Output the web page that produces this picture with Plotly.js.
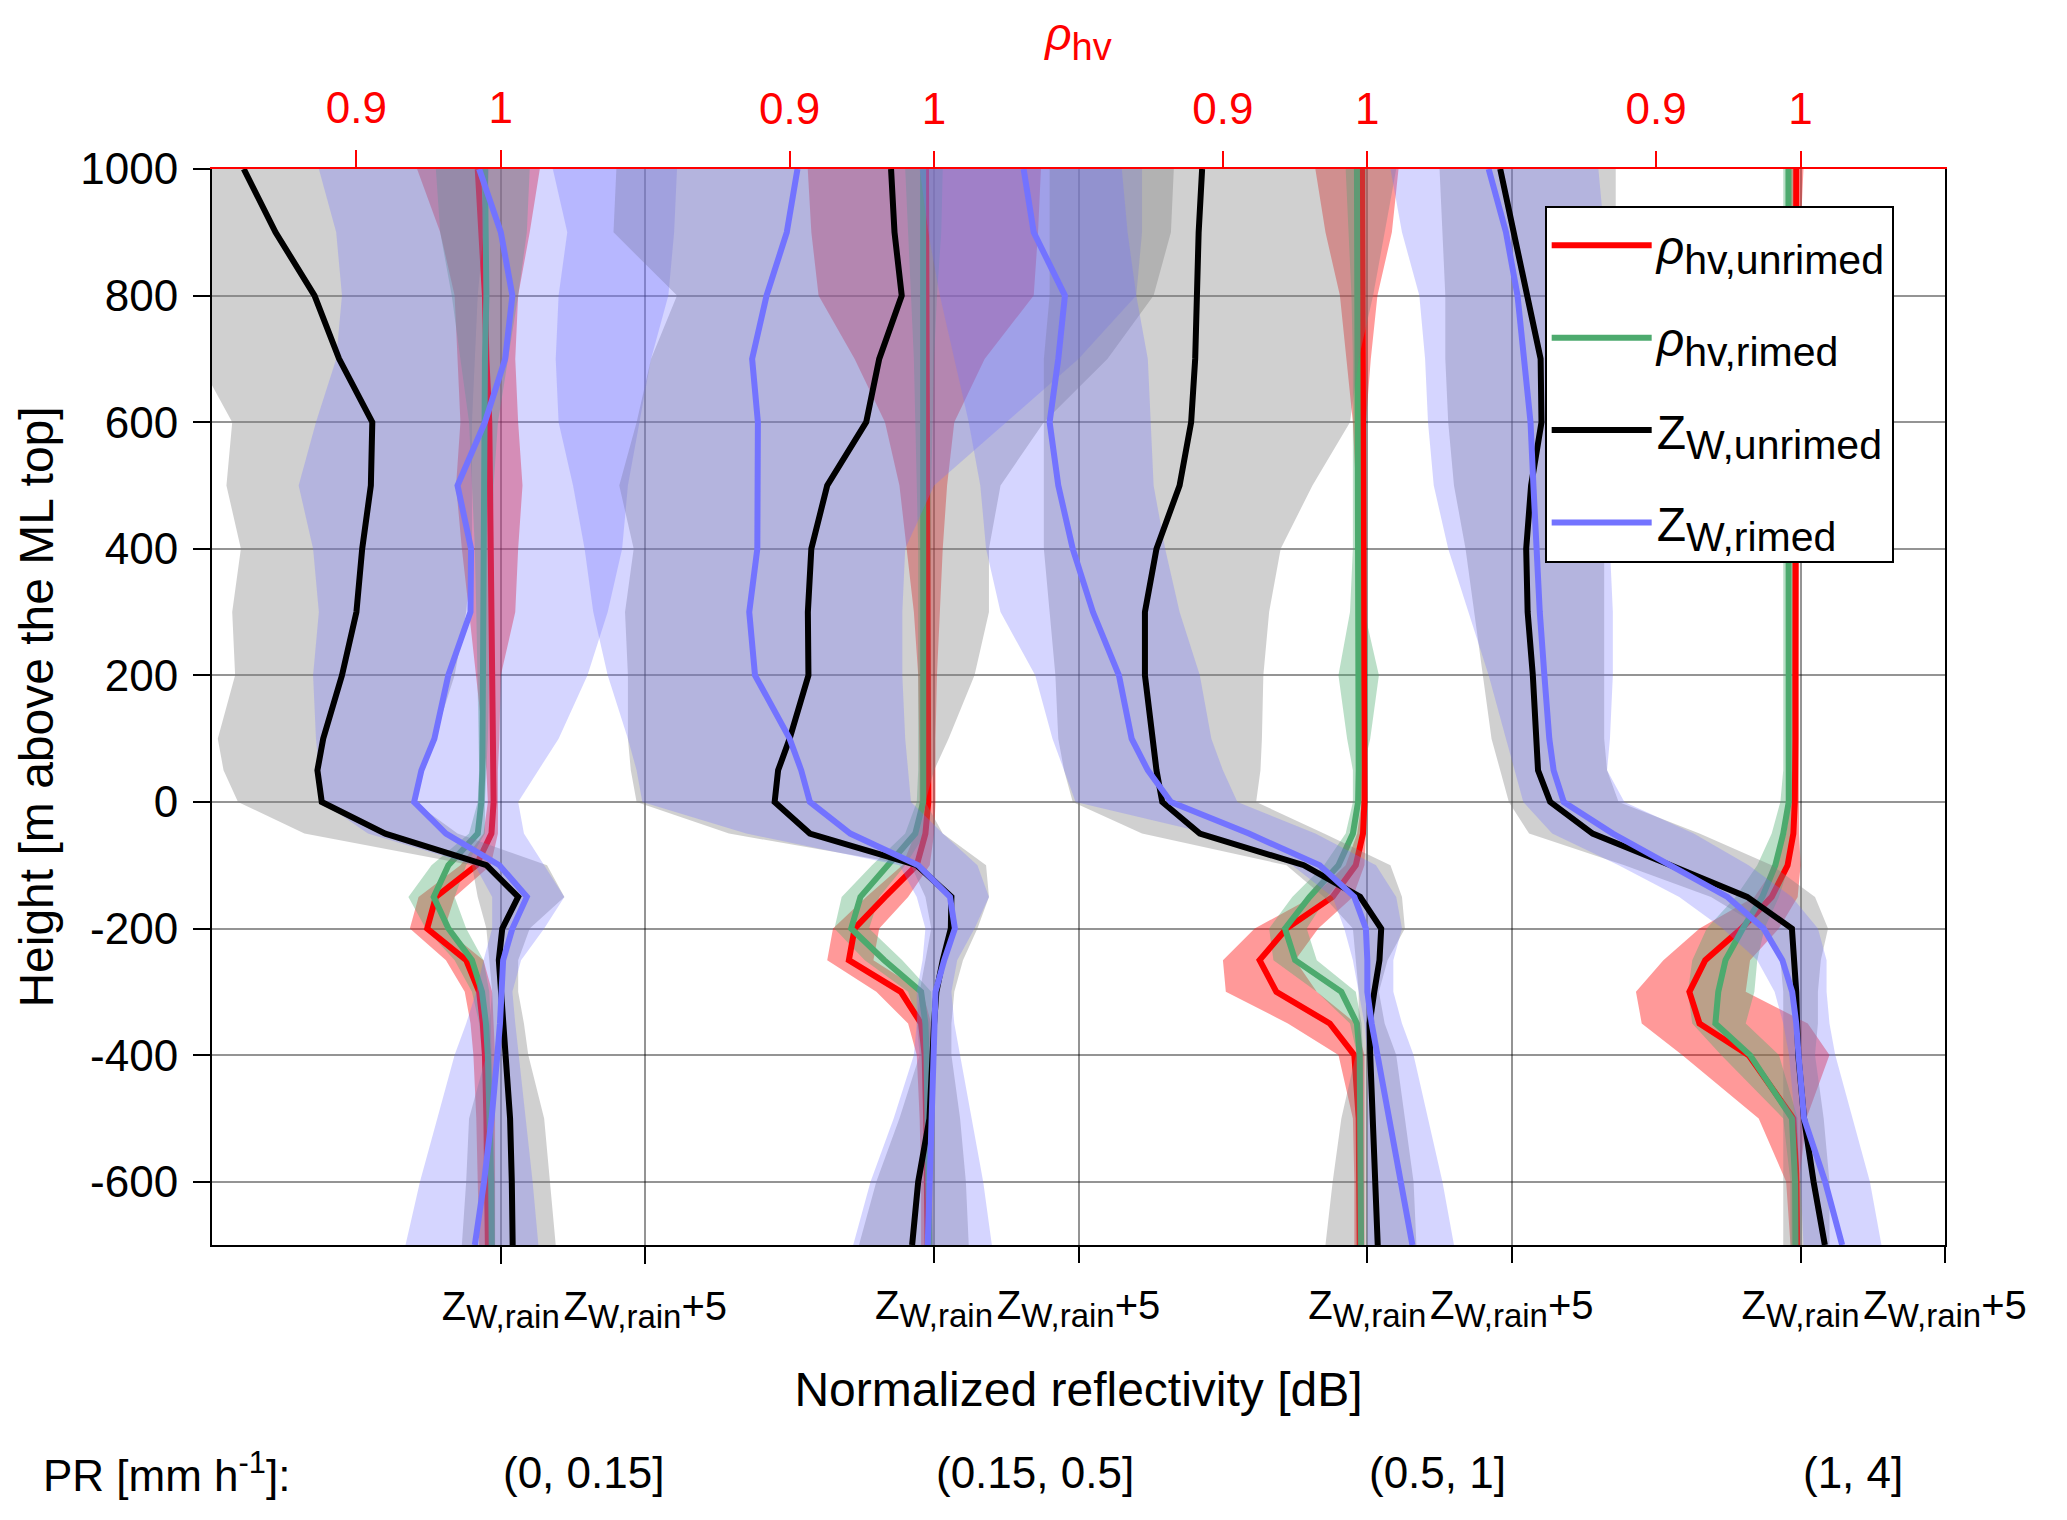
<!DOCTYPE html>
<html>
<head>
<meta charset="utf-8">
<script src="https://cdn.plot.ly/plotly-3.0.1.min.js"></script>
<style>body{margin:0;background:#fff}</style>
</head>
<body>
<div id="chart" style="width:2067px;height:1520px"></div>
<script>
// heights above the melting layer top [m]
var heights = [1000, 900, 800, 700, 600, 500, 400, 300, 200, 100, 50, 0, -50, -100, -150, -200, -250, -300, -350, -400, -500, -600, -700];

// PR (0, 0.15]  -- Z in dB relative to Z_W,rain
var zUnrimed1   = [-8.9, -7.8, -6.45, -5.6, -4.45, -4.5, -4.8, -5.0, -5.5, -6.15, -6.35, -6.2, -4.0, -0.5, 0.6, 0.05, -0.07, 0.0, 0.1, 0.18, 0.32, 0.38, 0.41];
var zUnrimedLo1 = [-12, -12, -12, -10.5, -9.3, -9.5, -9.0, -9.3, -9.2, -9.8, -9.6, -9.1, -6.8, -1.0, -0.8, -0.5, -0.4, -0.3, -0.4, -0.5, -1.1, -1.2, -1.35];
var zUnrimedHi1 = [-0.4, -0.6, -0.8, -0.9, -1.0, -1.0, -1.0, -1.2, -1.6, -2.3, -2.7, -3.0, -1.5, 1.6, 2.2, 1.0, 0.6, 0.6, 0.8, 0.95, 1.5, 1.7, 1.9];
var zRimed1     = [-0.75, 0.0, 0.4, 0.15, -0.55, -1.5, -1.03, -1.05, -1.82, -2.3, -2.75, -3.0, -1.9, -0.05, 0.9, 0.4, 0.08, 0.05, -0.03, -0.12, -0.32, -0.58, -0.9];
var zRimedLo1   = [-6.3, -5.7, -5.5, -5.7, -6.4, -7.0, -6.5, -6.3, -6.5, -6.4, -6.3, -6.2, -4.6, -0.9, -0.3, -0.3, -0.6, -0.85, -1.2, -1.6, -2.2, -2.8, -3.3];
var zRimedHi1   = [6.1, 6.0, 5.8, 5.2, 4.8, 4.4, 4.2, 3.7, 3.0, 2.0, 1.3, 0.6, 0.8, 1.5, 2.2, 1.5, 0.7, 0.4, 0.5, 0.6, 0.85, 1.1, 1.3];
var rhoUnrimed1   = [0.984, 0.9865, 0.989, 0.990, 0.992, 0.9925, 0.993, 0.9935, 0.994, 0.9945, 0.995, 0.995, 0.9935, 0.983, 0.955, 0.949, 0.976, 0.985, 0.9875, 0.989, 0.990, 0.9905, 0.991];
var rhoUnrimedLo1 = [0.942, 0.958, 0.968, 0.970, 0.972, 0.969, 0.973, 0.978, 0.983, 0.988, 0.990, 0.991, 0.988, 0.972, 0.943, 0.937, 0.962, 0.975, 0.979, 0.981, 0.983, 0.984, 0.985];
var rhoUnrimedHi1 = [1.027, 1.020, 1.012, 1.010, 1.012, 1.015, 1.012, 1.010, 1.000, 0.999, 0.998, 0.998, 0.998, 0.993, 0.968, 0.961, 0.988, 0.994, 0.995, 0.996, 0.996, 0.996, 0.996];
var rhoRimed1     = [0.989, 0.990, 0.990, 0.989, 0.9888, 0.9885, 0.988, 0.9885, 0.9877, 0.9875, 0.9872, 0.9865, 0.984, 0.9637, 0.9535, 0.9637, 0.980, 0.987, 0.9897, 0.991, 0.9925, 0.9933, 0.9937];
var rhoRimedLo1   = [0.955, 0.958, 0.966, 0.972, 0.978, 0.980, 0.982, 0.983, 0.984, 0.985, 0.985, 0.984, 0.978, 0.952, 0.936, 0.948, 0.968, 0.980, 0.985, 0.987, 0.989, 0.990, 0.990];
var rhoRimedHi1   = [1.020, 1.018, 1.012, 1.005, 0.998, 0.995, 0.994, 0.993, 0.992, 0.991, 0.990, 0.989, 0.989, 0.976, 0.968, 0.976, 0.988, 0.992, 0.993, 0.994, 0.995, 0.996, 0.996];

// PR (0.15, 0.5]
var zUnrimed2   = [-1.49, -1.37, -1.12, -1.9, -2.35, -3.7, -4.25, -4.37, -4.35, -5.0, -5.4, -5.52, -4.3, -0.6, 0.6, 0.58, 0.3, 0.08, 0.0, -0.04, -0.16, -0.55, -0.76];
var zUnrimedLo2 = [-11.0, -11.1, -8.9, -9.8, -10.3, -10.9, -10.4, -10.7, -10.6, -10.6, -10.5, -10.3, -7.1, -0.8, -0.3, -0.1, -0.3, -0.5, -0.6, -0.5, -1.2, -2.0, -2.6];
var zUnrimedHi2 = [8.3, 8.2, 7.6, 6.0, 3.8, 2.3, 1.9, 1.9, 1.4, 0.5, 0.0, -0.3, 0.3, 1.8, 1.9, 1.5, 1.0, 0.7, 0.6, 0.6, 0.9, 1.1, 1.2];
var zRimed2     = [-4.73, -5.1, -5.8, -6.3, -6.1, -6.1, -6.12, -6.4, -6.2, -5.0, -4.6, -4.3, -2.9, -0.55, 0.55, 0.72, 0.35, 0.05, 0.02, 0.0, -0.08, -0.15, -0.22];
var zRimedLo2   = [-13.2, -12.7, -13.0, -13.1, -13.0, -12.5, -12.1, -11.8, -11.3, -10.6, -10.3, -10.1, -6.5, -1.2, -0.6, -0.3, -0.4, -0.6, -0.6, -0.7, -1.4, -2.2, -2.8];
var zRimedHi2   = [7.2, 7.2, 7.0, 5.0, 2.5, 0.0, -1.0, -1.1, -1.1, -1.0, -0.9, -0.8, 0.3, 1.5, 1.9, 1.4, 0.8, 0.6, 0.7, 0.9, 1.3, 1.7, 2.0];
var rhoUnrimed2   = [0.9944, 0.9945, 0.9947, 0.9948, 0.995, 0.9955, 0.9955, 0.9958, 0.996, 0.9962, 0.9963, 0.996, 0.994, 0.988, 0.966, 0.945, 0.941, 0.977, 0.991, 0.9935, 0.9945, 0.995, 0.9955];
var rhoUnrimedLo2 = [0.9125, 0.915, 0.920, 0.945, 0.966, 0.976, 0.981, 0.986, 0.989, 0.990, 0.990, 0.990, 0.987, 0.978, 0.953, 0.930, 0.926, 0.960, 0.982, 0.988, 0.990, 0.991, 0.991];
var rhoUnrimedHi2 = [1.074, 1.072, 1.069, 1.035, 1.014, 1.009, 1.006, 1.004, 1.002, 1.001, 1.001, 1.001, 1.000, 0.997, 0.982, 0.962, 0.958, 0.992, 0.998, 0.999, 0.999, 0.999, 0.999];
var rhoRimed2     = [0.9924, 0.9924, 0.9925, 0.9925, 0.9926, 0.9926, 0.9927, 0.9928, 0.9929, 0.993, 0.993, 0.9925, 0.987, 0.968, 0.949, 0.9426, 0.9655, 0.991, 0.994, 0.9948, 0.9958, 0.9963, 0.9968];
var rhoRimedLo2   = [0.980, 0.982, 0.984, 0.986, 0.987, 0.988, 0.989, 0.989, 0.989, 0.989, 0.989, 0.988, 0.980, 0.957, 0.936, 0.931, 0.952, 0.982, 0.989, 0.991, 0.993, 0.994, 0.994];
var rhoRimedHi2   = [1.006, 1.005, 1.002, 1.000, 0.999, 0.998, 0.998, 0.997, 0.997, 0.997, 0.997, 0.997, 0.994, 0.980, 0.962, 0.955, 0.978, 0.998, 0.999, 0.999, 0.999, 0.999, 0.999];

// PR (0.5, 1]
var zUnrimed3   = [-5.72, -5.84, -5.9, -5.96, -6.1, -6.5, -7.3, -7.7, -7.7, -7.45, -7.3, -7.1, -5.8, -2.2, -0.25, 0.48, 0.42, 0.24, 0.08, 0.1, 0.18, 0.28, 0.36];
var zUnrimedLo3 = [-11.0, -11.0, -11.0, -11.2, -11.2, -11.2, -11.2, -11.0, -10.8, -10.7, -10.5, -10.2, -7.8, -2.8, -1.5, -0.5, -0.4, -0.3, -0.3, -0.4, -0.9, -1.2, -1.45];
var zUnrimedHi3 = [1.0, 0.6, 0.2, -0.3, -0.6, -1.9, -3.0, -3.4, -3.6, -3.65, -3.7, -3.85, -1.5, 0.8, 1.2, 1.3, 0.7, 0.4, 0.6, 1.0, 1.3, 1.6, 1.7];
var zRimed3     = [-11.9, -11.55, -10.47, -10.7, -11.0, -10.7, -10.2, -9.5, -8.6, -8.16, -7.6, -6.8, -4.1, -1.65, -0.45, -0.05, 0.0, 0.0, 0.15, 0.35, 0.75, 1.2, 1.56];
var zRimedLo3   = [-15.5, -15.2, -14.8, -14.3, -13.8, -13.4, -13.2, -12.7, -11.5, -10.9, -10.5, -10.1, -5.5, -2.6, -1.2, -0.8, -0.5, -0.3, -0.1, 0.0, 0.0, 0.0, 0.0];
var zRimedHi3   = [-8.5, -8.3, -8.0, -7.6, -7.5, -7.4, -7.0, -6.5, -5.8, -5.4, -5.0, -4.5, -1.8, 0.3, 1.0, 1.2, 0.9, 0.9, 1.2, 1.6, 2.1, 2.6, 3.0];
var rhoUnrimed3   = [0.9964, 0.9966, 0.9968, 0.9971, 0.9972, 0.9974, 0.9976, 0.9977, 0.9978, 0.998, 0.998, 0.998, 0.997, 0.992, 0.976, 0.944, 0.9254, 0.937, 0.974, 0.991, 0.994, 0.9945, 0.9947];
var rhoUnrimedLo3 = [0.964, 0.971, 0.981, 0.9855, 0.990, 0.992, 0.994, 0.995, 0.996, 0.996, 0.996, 0.996, 0.993, 0.985, 0.962, 0.922, 0.900, 0.902, 0.945, 0.980, 0.990, 0.991, 0.991];
var rhoUnrimedHi3 = [1.0216, 1.017, 1.007, 1.0024, 0.999, 0.999, 0.999, 0.999, 0.999, 0.999, 0.999, 0.999, 0.999, 0.998, 0.990, 0.966, 0.950, 0.965, 0.992, 0.998, 0.998, 0.998, 0.998];
var rhoRimed3     = [0.9928, 0.993, 0.993, 0.9932, 0.9932, 0.9932, 0.9932, 0.9932, 0.9935, 0.9938, 0.994, 0.9936, 0.990, 0.980, 0.960, 0.943, 0.950, 0.982, 0.9928, 0.9947, 0.995, 0.9955, 0.9957];
var rhoRimedLo3   = [0.985, 0.987, 0.989, 0.990, 0.990, 0.990, 0.990, 0.988, 0.980, 0.986, 0.990, 0.990, 0.985, 0.970, 0.948, 0.932, 0.935, 0.965, 0.988, 0.993, 0.994, 0.994, 0.994];
var rhoRimedHi3   = [0.999, 0.998, 0.997, 0.996, 0.996, 0.996, 0.996, 0.998, 1.008, 1.002, 0.997, 0.997, 0.996, 0.990, 0.972, 0.958, 0.965, 0.992, 0.996, 0.997, 0.997, 0.997, 0.997];

// PR (1, 4]
var zUnrimed4   = [-10.4, -9.95, -9.5, -9.0, -8.97, -9.33, -9.5, -9.45, -9.27, -9.15, -9.09, -8.67, -7.2, -4.5, -1.85, -0.3, -0.2, -0.15, -0.12, -0.08, 0.12, 0.45, 0.84];
var zUnrimedLo4 = [-12.5, -12.4, -12.3, -12.3, -12.2, -12.0, -11.6, -11.3, -11.0, -10.7, -10.4, -10.1, -9.4, -6.1, -3.1, -1.3, -0.7, -0.6, -0.6, -0.6, -0.6, -0.6, -0.6];
var zUnrimedHi4 = [-6.4, -6.4, -6.4, -6.5, -6.6, -6.7, -6.8, -6.8, -6.8, -6.8, -6.7, -6.3, -3.5, -1.0, 0.5, 0.95, 0.7, 0.6, 0.6, 0.5, 0.8, 1.0, 1.0];
var zRimed4     = [-10.8, -10.2, -9.8, -9.55, -9.35, -9.25, -9.15, -9.03, -8.87, -8.7, -8.55, -8.2, -6.5, -4.5, -2.53, -1.28, -0.63, -0.29, -0.15, -0.07, 0.12, 0.85, 1.44];
var zRimedLo4   = [-14.2, -13.8, -13.2, -13.0, -12.9, -12.7, -12.2, -11.5, -10.8, -10.2, -9.9, -9.6, -8.6, -6.3, -4.2, -2.7, -1.5, -0.9, -0.6, -0.4, -0.2, 0.0, 0.1];
var zRimedHi4   = [-7.0, -6.8, -6.7, -6.6, -6.6, -6.6, -6.6, -6.5, -6.5, -6.6, -6.7, -6.1, -3.7, -1.8, -0.3, 0.6, 0.9, 0.9, 1.0, 1.2, 1.8, 2.4, 2.8];
var rhoUnrimed4   = [0.997, 0.9968, 0.9966, 0.9965, 0.9964, 0.9964, 0.9964, 0.9964, 0.9964, 0.9964, 0.9964, 0.996, 0.995, 0.991, 0.980, 0.959, 0.934, 0.923, 0.930, 0.964, 0.995, 0.9973, 0.9976];
var rhoUnrimedLo4 = [0.993, 0.993, 0.993, 0.994, 0.994, 0.994, 0.994, 0.994, 0.994, 0.994, 0.994, 0.993, 0.990, 0.983, 0.968, 0.930, 0.905, 0.886, 0.890, 0.918, 0.971, 0.990, 0.993];
var rhoUnrimedHi4 = [1.002, 1.000, 0.999, 0.999, 0.999, 0.999, 0.999, 0.999, 0.999, 0.999, 0.999, 0.999, 0.999, 1.000, 0.998, 0.985, 0.965, 0.962, 1.005, 1.020, 1.004, 0.999, 0.999];
var rhoRimed4     = [0.9916, 0.9916, 0.9916, 0.9916, 0.9916, 0.9916, 0.9917, 0.9917, 0.9918, 0.9919, 0.992, 0.9918, 0.988, 0.9825, 0.9735, 0.960, 0.948, 0.943, 0.941, 0.965, 0.994, 0.9962, 0.9964];
var rhoRimedLo4   = [0.988, 0.988, 0.988, 0.988, 0.988, 0.988, 0.988, 0.988, 0.988, 0.988, 0.988, 0.986, 0.980, 0.970, 0.955, 0.935, 0.925, 0.922, 0.925, 0.945, 0.988, 0.993, 0.993];
var rhoRimedHi4   = [0.995, 0.995, 0.995, 0.995, 0.995, 0.995, 0.995, 0.995, 0.995, 0.995, 0.995, 0.995, 0.994, 0.992, 0.985, 0.975, 0.970, 0.968, 0.962, 0.985, 0.998, 0.999, 0.999];

var prClasses = ['(0, 0.15]', '(0.15, 0.5]', '(0.5, 1]', '(1, 4]'];
var zTickVals = [0, 5];
var zTickText = ['Z<sub><span style="font-size:33px">W,rain</span></sub>',
                 'Z<sub><span style="font-size:33px">W,rain</span></sub>+5'];
var rhoTickVals = [0.9, 1];
var rhoTickText = ['0.9', '1'];
var heightTicks = [-600, -400, -200, 0, 200, 400, 600, 800, 1000];

var FONT = 'Liberation Sans, Arial, Helvetica, sans-serif';
var GRID = 'rgba(0,0,0,0.42)';

var panels = [
    {zU: zUnrimed1, zULo: zUnrimedLo1, zUHi: zUnrimedHi1, zR: zRimed1, zRLo: zRimedLo1, zRHi: zRimedHi1,
     rU: rhoUnrimed1, rULo: rhoUnrimedLo1, rUHi: rhoUnrimedHi1, rR: rhoRimed1, rRLo: rhoRimedLo1, rRHi: rhoRimedHi1},
    {zU: zUnrimed2, zULo: zUnrimedLo2, zUHi: zUnrimedHi2, zR: zRimed2, zRLo: zRimedLo2, zRHi: zRimedHi2,
     rU: rhoUnrimed2, rULo: rhoUnrimedLo2, rUHi: rhoUnrimedHi2, rR: rhoRimed2, rRLo: rhoRimedLo2, rRHi: rhoRimedHi2},
    {zU: zUnrimed3, zULo: zUnrimedLo3, zUHi: zUnrimedHi3, zR: zRimed3, zRLo: zRimedLo3, zRHi: zRimedHi3,
     rU: rhoUnrimed3, rULo: rhoUnrimedLo3, rUHi: rhoUnrimedHi3, rR: rhoRimed3, rRLo: rhoRimedLo3, rRHi: rhoRimedHi3},
    {zU: zUnrimed4, zULo: zUnrimedLo4, zUHi: zUnrimedHi4, zR: zRimed4, zRLo: zRimedLo4, zRHi: zRimedHi4,
     rU: rhoUnrimed4, rULo: rhoUnrimedLo4, rUHi: rhoUnrimedHi4, rR: rhoRimed4, rRLo: rhoRimedLo4, rRHi: rhoRimedHi4}
];

// per panel: rho axis (top) first so its bands sit under the Z bands
function rhoAxisId(k){ return k === 0 ? 'x' : 'x' + (2 * k + 1); }
function zAxisId(k){ return 'x' + (2 * k + 2); }
function axisKey(id){ return 'xaxis' + id.slice(1); }

function band(lo, hi, color, xa){
    return {
        x: lo.concat(hi.slice().reverse()),
        y: heights.concat(heights.slice().reverse()),
        xaxis: xa, yaxis: 'y',
        mode: 'lines', fill: 'toself', fillcolor: color,
        line: {width: 0, color: 'rgba(0,0,0,0)'},
        hoverinfo: 'skip', showlegend: false
    };
}

function profile(vals, color, xa, name, k, group){
    return {
        x: vals, y: heights,
        xaxis: xa, yaxis: 'y',
        mode: 'lines', name: name, legendgroup: group,
        line: {color: color, width: 6},
        showlegend: k === 0
    };
}

var subStyle = '<span style="font-size:41px">';
var traces = [];
panels.forEach(function(p, k){
    traces.push(band(p.rULo, p.rUHi, 'rgba(255,0,0,0.4)', rhoAxisId(k)));
    traces.push(band(p.rRLo, p.rRHi, 'rgba(77,170,110,0.38)', rhoAxisId(k)));
    traces.push(band(p.zULo, p.zUHi, 'rgba(128,128,128,0.37)', zAxisId(k)));
    traces.push(band(p.zRLo, p.zRHi, 'rgba(115,115,255,0.3)', zAxisId(k)));
});
panels.forEach(function(p, k){
    traces.push(profile(p.rU, '#ff0000', rhoAxisId(k), '<i>ρ</i><sub>' + subStyle + 'hv,unrimed</span></sub>', k, 'g1'));
    traces.push(profile(p.rR, 'rgb(77,170,110)', rhoAxisId(k), '<i>ρ</i><sub>' + subStyle + 'hv,rimed</span></sub>', k, 'g2'));
    traces.push(profile(p.zU, '#000000', zAxisId(k), 'Z<sub>' + subStyle + 'W,unrimed</span></sub>', k, 'g3'));
    traces.push(profile(p.zR, 'rgb(115,115,255)', zAxisId(k), 'Z<sub>' + subStyle + 'W,rimed</span></sub>', k, 'g4'));
});

var layout = {
    width: 2067, height: 1520,
    margin: {l: 212, r: 122, t: 169, b: 275},
    paper_bgcolor: 'white', plot_bgcolor: 'white',
    font: {family: FONT, size: 44, color: 'black'},
    showlegend: true,
    legend: {x: 0.769, y: 0.966, xanchor: 'left', yanchor: 'top',
             bgcolor: 'white', bordercolor: 'black', borderwidth: 2,
             font: {size: 48}, traceorder: 'grouped', tracegroupgap: 27,
             itemwidth: 100},
    yaxis: {
        range: [-700, 1000],
        tickvals: heightTicks, ticktext: heightTicks.map(String),
        ticks: 'outside', ticklen: 17, tickwidth: 2, tickcolor: 'black',
        ticklabelstandoff: 6,
        showline: true, mirror: true, linecolor: 'black', linewidth: 2,
        showgrid: true, gridcolor: GRID, gridwidth: 2, zeroline: false,
        tickfont: {size: 44},
        title: {text: 'Height [m above the ML top]', font: {size: 48}, standoff: 12}
    },
    annotations: [{
        xref: 'paper', yref: 'paper', x: -0.0987, y: -0.211,
        xanchor: 'left', yanchor: 'middle', showarrow: false,
        text: 'PR [mm h<sup>-1</sup>]:', font: {size: 44}
    }]
};

panels.forEach(function(p, k){
    var zAx = {
        range: [-10 - 15 * k, 50 - 15 * k],
        overlaying: 'x', anchor: 'y', side: 'bottom',
        tickvals: zTickVals, ticktext: zTickText, tickangle: 0,
        ticks: 'outside', ticklen: 17, tickwidth: 2, tickcolor: 'black',
        ticklabelstandoff: 8,
        tickfont: {size: 40},
        showgrid: true, gridcolor: GRID, gridwidth: 2, zeroline: false,
        showline: k === 0, linecolor: 'black', linewidth: 2
    };
    if (k === 0) {
        zAx.title = {text: 'Normalized reflectivity [dB]', font: {size: 48}, standoff: 38};
    }
    layout[axisKey(zAxisId(k))] = zAx;

    var rAx = {
        range: [0.8 - 0.3 * k, 2.0 - 0.3 * k],
        anchor: 'y', side: 'top', tickangle: 0,
        tickvals: rhoTickVals, ticktext: rhoTickText,
        ticks: 'outside', ticklen: 17, tickwidth: 2, tickcolor: 'red',
        ticklabelstandoff: 9,
        tickfont: {size: 44, color: 'red'},
        showgrid: false, zeroline: false,
        showline: k === 0, linecolor: 'red', linewidth: 2
    };
    if (k === 0) {
        rAx.title = {text: '<i>ρ</i><sub><span style="font-size:38px">hv</span></sub>', font: {size: 46, color: 'red'}, standoff: 18};
    } else {
        rAx.overlaying = 'x';
    }
    layout[axisKey(rhoAxisId(k))] = rAx;

    layout.annotations.push({
        xref: zAxisId(k), yref: 'paper', x: 0, y: -0.211,
        xanchor: 'left', yanchor: 'middle', showarrow: false,
        text: prClasses[k], font: {size: 44}
    });
});

Plotly.newPlot('chart', traces, layout, {displayModeBar: false, staticPlot: true});
</script>
</body>
</html>
